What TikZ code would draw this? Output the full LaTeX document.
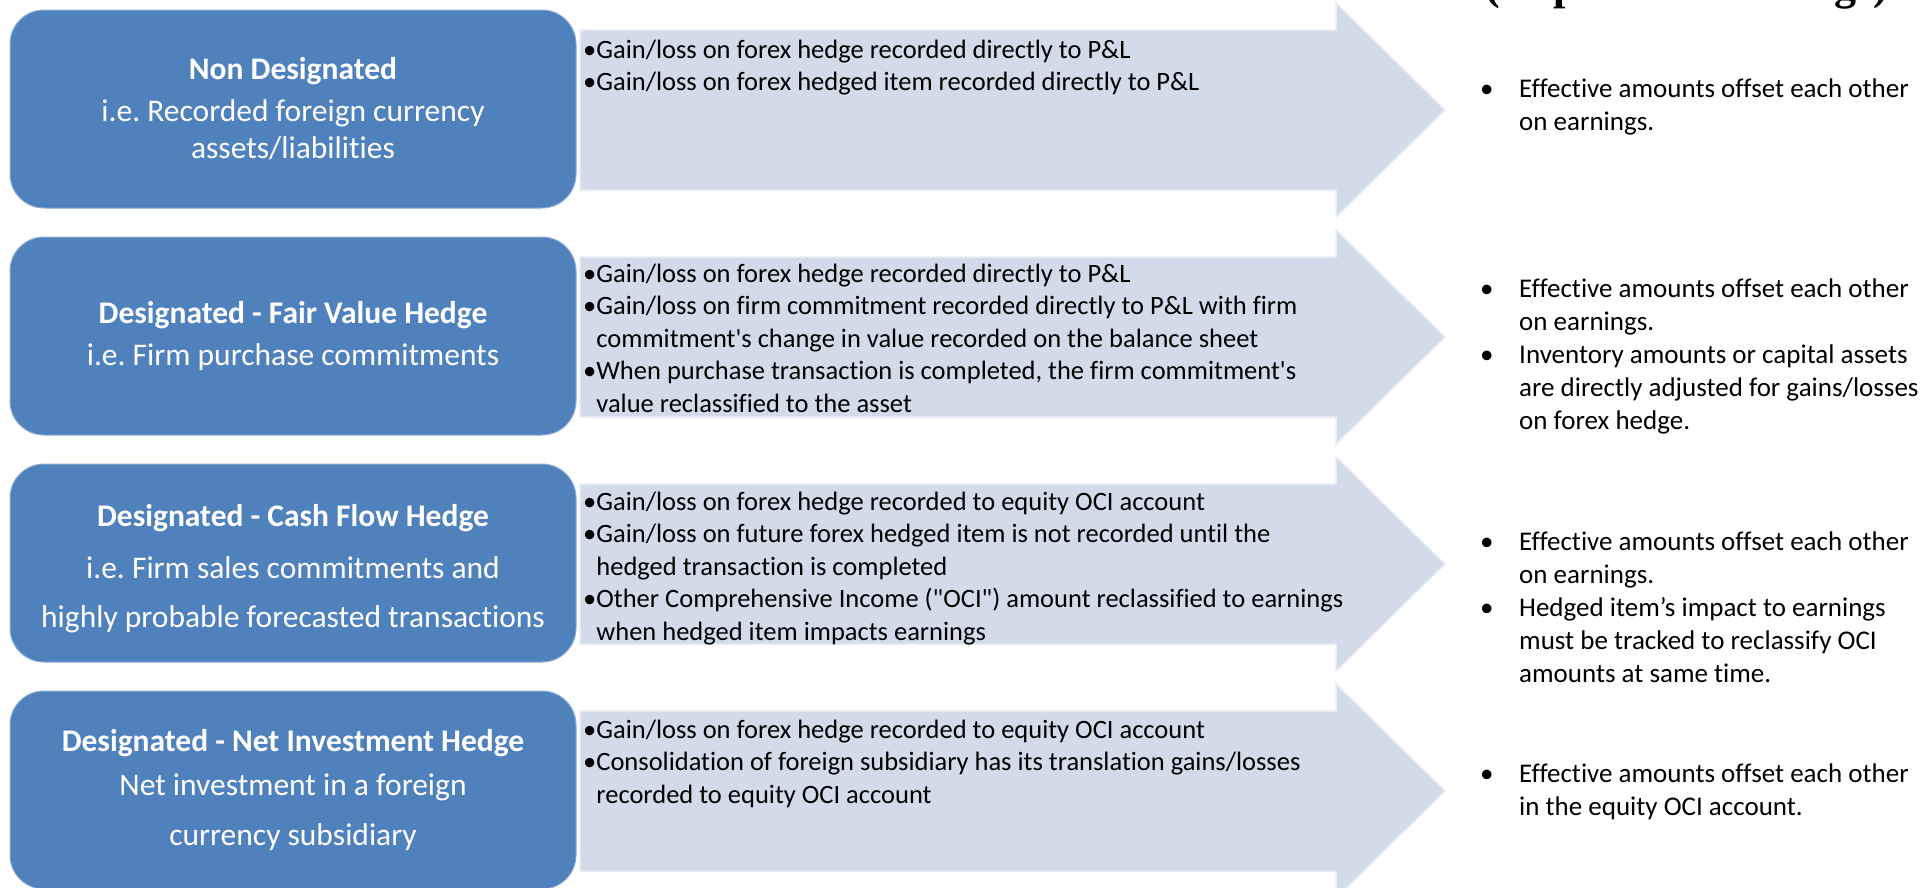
\documentclass[tikz,border=0pt]{standalone}
\usepackage{fontspec}
\setmainfont{Carlito}[Ligatures={NoCommon,TeXOff}]
\newfontfamily\headfont{Liberation Serif}
\definecolor{BoxClr}{RGB}{79,129,189}
\definecolor{ArrowClr}{RGB}{211,218,234}
\newcommand{\bulletgap}{\hphantom{•}}
\frenchspacing

\begin{document}
\begin{tikzpicture}[x=1pt,y=-1pt,
  hedgebox/.style={draw=BoxClr!65!white,line width=1pt,fill=BoxClr,rounded corners=34pt,
    minimum width=566pt,minimum height=198pt,inner sep=0pt,text=white,align=center,
    font=\fontsize{31.5}{37.5}\selectfont},
  arrowbody/.style={fill=ArrowClr,draw=ArrowClr!55!white,line width=1.5pt},
  rulelist/.style={anchor=base west,inner sep=0pt,align=left,font=\fontsize{26.5}{32.5}\selectfont},
  effectlist/.style={anchor=base west,inner sep=0pt,align=left,font=\fontsize{27}{33}\selectfont}]

\useasboundingbox (0,0) rectangle (1921,887);

% arrows behind the boxes
\filldraw[arrowbody] (580,30) -- (1336,30) -- (1336,3) -- (1445,110) -- (1336,217) -- (1336,190) -- (580,190) -- cycle;
\filldraw[arrowbody] (580,257) -- (1336,257) -- (1336,230) -- (1445,337) -- (1336,444) -- (1336,417) -- (580,417) -- cycle;
\filldraw[arrowbody] (580,484) -- (1336,484) -- (1336,457) -- (1445,564) -- (1336,671) -- (1336,644) -- (580,644) -- cycle;
\filldraw[arrowbody] (580,711) -- (1336,711) -- (1336,684) -- (1445,791) -- (1336,898) -- (1336,871) -- (580,871) -- cycle;

% hedge types
\node[hedgebox] (B1) at (293,109) {\textbf{Non Designated}\\[4pt]
  i.e. Recorded foreign currency\\ assets/liabilities};
\node[hedgebox] (B2) at (293,336) {\textbf{Designated - Fair Value Hedge}\\[4pt]
  i.e. Firm purchase commitments};
\node[hedgebox] (B3) at (293,563) {\textbf{\rule{0pt}{34pt}Designated - Cash Flow Hedge}\\[14pt]
  i.e. Firm sales commitments and\\[12pt] highly probable forecasted transactions};
\node[hedgebox] (B4) at (293,790) {\textbf{Designated - Net Investment Hedge}\\[6pt]
  Net investment in a foreign\\[13pt] currency subsidiary};

% accounting rules (placed at the baseline of the last line)
\node[rulelist] (A1) at (583,90.5) {•Gain/loss on forex hedge recorded directly to P\&L\\
  •Gain/loss on forex hedged item recorded directly to P\&L};
\node[rulelist] (A2) at (583,412) {•Gain/loss on forex hedge recorded directly to P\&L\\
  •Gain/loss on firm commitment recorded directly to P\&L with firm\\
  \bulletgap commitment's change in value recorded on the balance sheet\\
  •When purchase transaction is completed, the firm commitment's\\
  \bulletgap value reclassified to the asset};
\node[rulelist] (A3) at (583,640) {•Gain/loss on forex hedge recorded to equity OCI account\\
  •Gain/loss on future forex hedged item is not recorded until the\\
  \bulletgap hedged transaction is completed\\
  •Other Comprehensive Income ("OCI") amount reclassified to earnings\\
  \bulletgap when hedged item impacts earnings};
\node[rulelist] (A4) at (583,803) {•Gain/loss on forex hedge recorded to equity OCI account\\
  •Consolidation of foreign subsidiary has its translation gains/losses\\
  \bulletgap recorded to equity OCI account};

% effect on earnings
\node[anchor=base west,inner sep=0pt,font=\headfont\bfseries\fontsize{44}{46}\selectfont] (H) at (1485,-1) {(Impact on Earnings)};
\node[effectlist] (E1) at (1480,130) {\makebox[39pt][l]{•}Effective amounts offset each other\\
  \hspace*{39pt}on earnings.};
\node[effectlist] (E2) at (1480,429) {\makebox[39pt][l]{•}Effective amounts offset each other\\
  \hspace*{39pt}on earnings.\\
  \makebox[39pt][l]{•}Inventory amounts or capital assets\\
  \hspace*{39pt}are directly adjusted for gains/losses\\
  \hspace*{39pt}on forex hedge.};
\node[effectlist] (E3) at (1480,682) {\makebox[39pt][l]{•}Effective amounts offset each other\\
  \hspace*{39pt}on earnings.\\
  \makebox[39pt][l]{•}Hedged item’s impact to earnings\\
  \hspace*{39pt}must be tracked to reclassify OCI\\
  \hspace*{39pt}amounts at same time.};
\node[effectlist] (E4) at (1480,815) {\makebox[39pt][l]{•}Effective amounts offset each other\\
  \hspace*{39pt}in the equity OCI account.};

\end{tikzpicture}
\end{document}
